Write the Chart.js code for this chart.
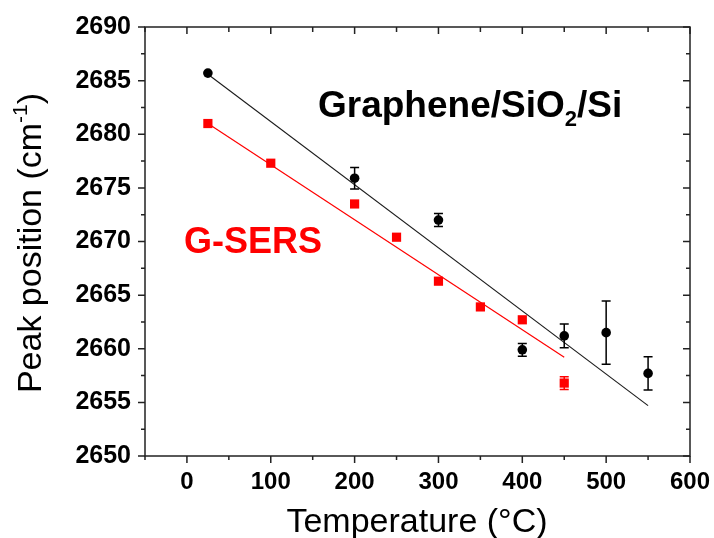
<!DOCTYPE html>
<html>
<head>
<meta charset="utf-8">
<title>Peak position vs temperature</title>
<script src="https://cdn.jsdelivr.net/npm/chart.js@4.4.1/dist/chart.umd.min.js"></script>
<style>
  html, body {
    margin: 0;
    padding: 0;
    background: #ffffff;
  }

  #wrap {
    position: relative;
    width: 714px;
    height: 538px;
  }
</style>
</head>
<body>

<div id="wrap">
  <canvas id="peakChart"></canvas>
</div>

<script>

// =========================
// DATA
// =========================

const sio2Temperatures = [25, 200, 300, 400, 450, 500, 550];
const sio2Peaks = [2685.7, 2675.9, 2672.0, 2659.9, 2661.2, 2661.5, 2657.7];
const sio2Errors = [0, 1.0, 0.6, 0.6, 1.1, 2.95, 1.55];

const gsersTemperatures = [25, 100, 200, 250, 300, 350, 400, 450];
const gsersPeaks = [2681.0, 2677.3, 2673.5, 2670.4, 2666.3, 2663.9, 2662.7, 2656.8];
const gsersErrors = [0, 0, 0, 0, 0, 0, 0, 0.6];

// linear fit end points
const sio2FitX = [25, 550];
const sio2FitY = [2685.6, 2654.7];
const gsersFitX = [25, 450];
const gsersFitY = [2681.0, 2659.2];

const xTickValues = [0, 100, 200, 300, 400, 500, 600];
const yTickValues = [2650, 2655, 2660, 2665, 2670, 2675, 2680, 2685, 2690];


// =========================
// HELPERS
// =========================

const FONT = "'Liberation Sans', Arial, sans-serif";

function toPoints(xs, ys) {

  return xs.map(
    (x, i) => ({ x, y: ys[i] })
  );

}


// error bars drawn over each series
const errorBarPlugin = {

  id: "errorBars",

  afterDatasetsDraw(chart) {

    const ctx = chart.ctx;
    const yScale = chart.scales.y;

    chart.data.datasets.forEach(
      (dataset, index) => {

        if(!dataset.errors) return;

        const meta = chart.getDatasetMeta(index);

        ctx.save();
        ctx.strokeStyle = dataset.borderColor;
        ctx.lineWidth = 1.5;

        meta.data.forEach(
          (point, i) => {

            const err = dataset.errors[i];
            if(!err) return;

            const value = dataset.data[i].y;
            const top = yScale.getPixelForValue(value + err);
            const bottom = yScale.getPixelForValue(value - err);
            const cap = 4.5;

            ctx.beginPath();
            ctx.moveTo(point.x, top);
            ctx.lineTo(point.x, bottom);
            ctx.moveTo(point.x - cap, top);
            ctx.lineTo(point.x + cap, top);
            ctx.moveTo(point.x - cap, bottom);
            ctx.lineTo(point.x + cap, bottom);
            ctx.stroke();

          }
        );

        ctx.restore();

      }
    );

  }

};


// frame, tick marks, axis titles and series captions
const framePlugin = {

  id: "frame",

  afterDraw(chart) {

    const ctx = chart.ctx;
    const area = chart.chartArea;
    const xScale = chart.scales.x;
    const yScale = chart.scales.y;

    ctx.save();
    ctx.strokeStyle = "#222222";
    ctx.lineWidth = 1.5;

    ctx.strokeRect(
      area.left,
      area.top,
      area.right - area.left,
      area.bottom - area.top
    );

    ctx.beginPath();

    for(let v = -50; v <= 600; v += 50) {

      const px = xScale.getPixelForValue(v);
      const major = v % 100 === 0;
      const len = major ? 7 : 4;

      ctx.moveTo(px, area.bottom);
      ctx.lineTo(px, area.bottom + len);
      ctx.moveTo(px, area.top);
      ctx.lineTo(px, area.top + (major ? 7 : 5));

    }

    for(let v = 2650; v <= 2690; v += 2.5) {

      const py = yScale.getPixelForValue(v);
      const len = v % 5 === 0 ? 7 : 4;

      ctx.moveTo(area.left, py);
      ctx.lineTo(area.left - len, py);
      ctx.moveTo(area.right, py);
      ctx.lineTo(area.right - len, py);

    }

    ctx.stroke();

    // x axis title
    ctx.fillStyle = "#000000";
    ctx.textBaseline = "alphabetic";
    ctx.textAlign = "center";
    ctx.font = "34px " + FONT;
    ctx.fillText("Temperature (\u00B0C)", 417, 532);

    // y axis title with superscript
    ctx.translate(41, 243);
    ctx.rotate(-Math.PI / 2);
    ctx.textAlign = "left";

    const mainFont = "34px " + FONT;
    const supFont = "21px " + FONT;

    ctx.font = mainFont;
    const partA = "Peak position (cm";
    const wA = ctx.measureText(partA).width;
    const wC = ctx.measureText(")").width;
    ctx.font = supFont;
    const wB = ctx.measureText("-1").width;

    let start = -(wA + wB + wC) / 2;

    ctx.font = mainFont;
    ctx.fillText(partA, start, 0);
    ctx.font = supFont;
    ctx.fillText("-1", start + wA, -14);
    ctx.font = mainFont;
    ctx.fillText(")", start + wA + wB, 0);

    ctx.restore();

    // series captions
    ctx.save();
    ctx.textBaseline = "alphabetic";
    ctx.textAlign = "left";

    ctx.fillStyle = "#000000";
    ctx.font = "bold 37px " + FONT;

    let cx = 318;
    ctx.fillText("Graphene/SiO", cx, 117);
    cx += ctx.measureText("Graphene/SiO").width;

    ctx.font = "bold 22px " + FONT;
    ctx.fillText("2", cx, 126);
    cx += ctx.measureText("2").width;

    ctx.font = "bold 37px " + FONT;
    ctx.fillText("/Si", cx, 117);

    ctx.fillStyle = "#ff0000";
    ctx.font = "bold 36px " + FONT;
    ctx.fillText("G-SERS", 184, 253);

    ctx.restore();

  }

};


// =========================
// CHART
// =========================

function renderPeakChart() {

  const canvas = document.getElementById("peakChart");

  if(!canvas || typeof Chart === "undefined") return;

  new Chart(canvas, {

    type: "scatter",

    data: {

      datasets: [

        {
          label: "Graphene/SiO2/Si",
          data: toPoints(sio2Temperatures, sio2Peaks),
          errors: sio2Errors,
          pointStyle: "circle",
          pointRadius: 4.8,
          backgroundColor: "#000000",
          borderColor: "#000000",
          borderWidth: 0,
          order: 1
        },

        {
          label: "G-SERS",
          data: toPoints(gsersTemperatures, gsersPeaks),
          errors: gsersErrors,
          pointStyle: "rect",
          pointRadius: 6.5,
          backgroundColor: "#ff0000",
          borderColor: "#ff0000",
          borderWidth: 0,
          order: 2
        },

        {
          type: "line",
          label: "Graphene/SiO2/Si fit",
          data: toPoints(sio2FitX, sio2FitY),
          borderColor: "#1a1a1a",
          borderWidth: 1.1,
          pointRadius: 0,
          fill: false,
          order: 3
        },

        {
          type: "line",
          label: "G-SERS fit",
          data: toPoints(gsersFitX, gsersFitY),
          borderColor: "#ff0000",
          borderWidth: 1.2,
          pointRadius: 0,
          fill: false,
          order: 4
        }

      ]

    },

    options: {

      responsive: true,
      maintainAspectRatio: false,
      animation: false,

      layout: {
        padding: { top: 27, right: 24, left: 0, bottom: 0 }
      },

      plugins: {
        legend: { display: false },
        tooltip: { enabled: false }
      },

      scales: {

        x: {
          type: "linear",
          min: -50,
          max: 600,
          afterBuildTicks(scale) {
            scale.ticks = xTickValues.map(v => ({ value: v }));
          },
          afterFit(scale) {
            scale.height = 82;
            scale.paddingLeft = 0;
            scale.paddingRight = 0;
          },
          grid: { display: false, drawTicks: false },
          border: { display: false },
          ticks: {
            color: "#000000",
            padding: 12,
            maxRotation: 0,
            callback: value => String(value),
            font: { family: FONT, size: 24, weight: "bold" }
          }
        },

        y: {
          type: "linear",
          min: 2650,
          max: 2690,
          afterBuildTicks(scale) {
            scale.ticks = yTickValues.map(v => ({ value: v }));
          },
          afterFit(scale) {
            scale.width = 145;
            scale.paddingTop = 0;
            scale.paddingBottom = 0;
          },
          grid: { display: false, drawTicks: false },
          border: { display: false },
          ticks: {
            color: "#000000",
            padding: 14,
            callback: value => String(value),
            font: { family: FONT, size: 25, weight: "bold" }
          }
        }

      }

    },

    plugins: [errorBarPlugin, framePlugin]

  });

}

renderPeakChart();

</script>
</body>
</html>
